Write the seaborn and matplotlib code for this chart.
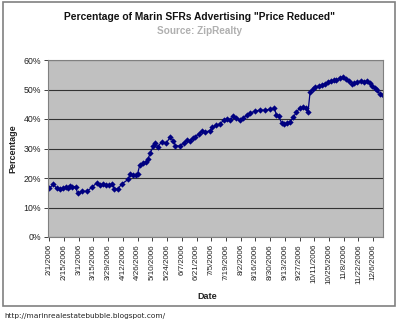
import matplotlib
matplotlib.use("Agg")
import matplotlib.pyplot as plt
import matplotlib.dates as mdates
from matplotlib.patches import Rectangle
from matplotlib.ticker import FuncFormatter, MultipleLocator
import seaborn as sns
import pandas as pd

dates = ["2006-02-01", "2006-02-05", "2006-02-08", "2006-02-11", "2006-02-14", "2006-02-17",
         "2006-02-19", "2006-02-21", "2006-02-23", "2006-02-26", "2006-02-28", "2006-03-04",
         "2006-03-09", "2006-03-14", "2006-03-18", "2006-03-21", "2006-03-24", "2006-03-27",
         "2006-03-30", "2006-04-02", "2006-04-04", "2006-04-07", "2006-04-11", "2006-04-17",
         "2006-04-19", "2006-04-22", "2006-04-24", "2006-04-26", "2006-04-28", "2006-05-01",
         "2006-05-04", "2006-05-06", "2006-05-08", "2006-05-11", "2006-05-13", "2006-05-15",
         "2006-05-19", "2006-05-23", "2006-05-27", "2006-05-30", "2006-06-01", "2006-06-05",
         "2006-06-09", "2006-06-12", "2006-06-15", "2006-06-18", "2006-06-20", "2006-06-23",
         "2006-06-26", "2006-06-29", "2006-07-04", "2006-07-06", "2006-07-10", "2006-07-13",
         "2006-07-17", "2006-07-20", "2006-07-23", "2006-07-26", "2006-07-29", "2006-08-01",
         "2006-08-04", "2006-08-08", "2006-08-11", "2006-08-16", "2006-08-20", "2006-08-25",
         "2006-08-30", "2006-09-03", "2006-09-05", "2006-09-07", "2006-09-10", "2006-09-12",
         "2006-09-15", "2006-09-18", "2006-09-21", "2006-09-24", "2006-09-27", "2006-09-30",
         "2006-10-03", "2006-10-05", "2006-10-07", "2006-10-10", "2006-10-12", "2006-10-15",
         "2006-10-18", "2006-10-21", "2006-10-24", "2006-10-27", "2006-10-30", "2006-11-01",
         "2006-11-04", "2006-11-07", "2006-11-10", "2006-11-13", "2006-11-16", "2006-11-18",
         "2006-11-21", "2006-11-24", "2006-11-27", "2006-11-30", "2006-12-03", "2006-12-05",
         "2006-12-08", "2006-12-10", "2006-12-12", "2006-12-15"]
pct = [16.6, 17.8, 16.5, 16.3, 16.5, 16.8, 16.5, 17.2, 17.0, 17.0, 14.8, 15.5,
       15.5, 17.0, 18.3, 17.5, 17.8, 17.7, 17.5, 17.8, 16.3, 16.2, 18.0, 19.5,
       21.3, 21.0, 21.0, 21.5, 24.3, 25.0, 25.5, 26.5, 28.5, 30.8, 32.0, 30.5,
       32.3, 31.8, 33.8, 32.5, 31.0, 30.8, 32.0, 32.8, 32.5, 33.5, 34.0, 35.0,
       35.8, 35.5, 36.1, 37.2, 37.9, 38.3, 39.6, 40.0, 39.6, 41.0, 40.5, 39.6,
       40.3, 41.3, 42.0, 42.7, 43.0, 43.0, 43.3, 43.7, 41.3, 41.0, 38.6, 38.3,
       38.6, 39.0, 40.6, 42.3, 43.7, 44.0, 43.7, 42.3, 49.2, 50.1, 50.8, 51.2,
       51.5, 51.9, 52.5, 52.9, 53.2, 53.2, 53.9, 54.2, 53.5, 52.9, 51.9, 52.2,
       52.5, 52.9, 52.5, 52.9, 52.2, 51.2, 50.5, 49.8, 48.5, 48.1]
tick_dates = pd.date_range("2006-02-01", "2006-12-06", freq="14D")
tick_labels = [f"{d.month}/{d.day}/{d.year}" for d in tick_dates]
title = 'Percentage of Marin SFRs Advertising "Price Reduced"'
subtitle = "Source: ZipRealty"
url = "http://marinrealestatebubble.blogspot.com/"

df = pd.DataFrame({"Date": pd.to_datetime(dates), "Percentage": pct})

sns.set_theme(style="white")
plt.rcParams["font.family"] = ["Liberation Sans", "DejaVu Sans"]

fig = plt.figure(figsize=(4.0, 3.25), dpi=100)
fig.patch.set_facecolor("white")
# outer chart frame
fig.patches.append(Rectangle((3 / 400, 1 - 306 / 325), 392 / 400, 304 / 325,
                             transform=fig.transFigure, fill=False,
                             edgecolor="#808080", linewidth=1.2))

ax = fig.add_axes([48 / 400, 1 - 237 / 325, 335 / 400, 177 / 325])
ax.set_facecolor("#C0C0C0")
sns.lineplot(data=df, x="Date", y="Percentage", ax=ax, color="#000080",
             marker="D", markersize=3.2, markeredgewidth=0, linewidth=0.9)

start = pd.Timestamp("2006-02-01")
ax.set_xlim(start - pd.Timedelta(days=1.2), start + pd.Timedelta(days=317.3))
ax.set_ylim(0, 60)
ax.yaxis.set_major_locator(MultipleLocator(10))
ax.yaxis.set_major_formatter(FuncFormatter(lambda v, p: f"{v:.0f}%"))
ax.set_xticks(tick_dates)
ax.set_xticklabels(tick_labels, rotation=90, fontsize=5.8, color="#222222")
ax.tick_params(axis="y", labelsize=6.3, colors="#222222", length=3, width=0.6,
               direction="out", left=True, pad=2)
ax.tick_params(axis="x", length=3, width=0.6, direction="out", bottom=True, pad=2,
               colors="#222222")
ax.grid(axis="y", color="#333333", linewidth=0.8)
ax.set_axisbelow(True)
for s in ax.spines.values():
    s.set_color("#808080")
    s.set_linewidth(0.8)

ax.set_xlabel("Date", fontsize=6.5, fontweight="bold", color="#222222")
ax.xaxis.set_label_coords((207 - 48) / 335, (237 - 292) / 177)
ax.set_ylabel("Percentage", fontsize=6.5, fontweight="bold", color="#222222")
ax.yaxis.set_label_coords((17 - 48) / 335, 0.5)

fig.text(200 / 400, 1 - 17 / 325, title, ha="center", va="center",
         fontsize=7.4, fontweight="bold", color="#111111")
fig.text(200 / 400, 1 - 31 / 325, subtitle, ha="center", va="center",
         fontsize=7.2, fontweight="bold", color="#B0B0B0")
fig.text(4 / 400, 1 - 316 / 325, url, ha="left", va="center",
         fontsize=5.3, color="#222222", family=["DejaVu Sans"])

fig.savefig("out.png", dpi=100, facecolor="white")
